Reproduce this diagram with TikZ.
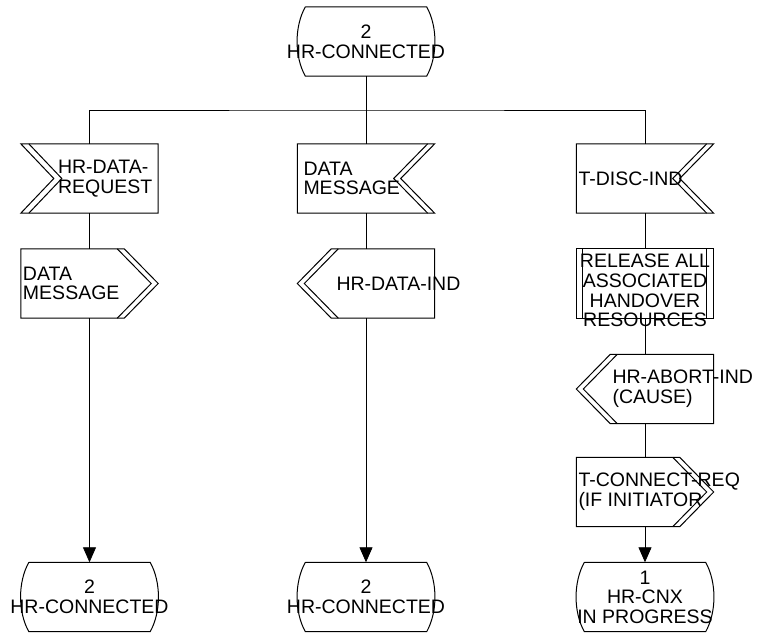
\documentclass[tikz,border=0pt]{standalone}
\usepackage{fontspec}
\setmainfont{Liberation Sans}
\usetikzlibrary{arrows.meta,positioning}
\begin{document}
\begin{tikzpicture}[x=1pt,y=-1pt,font={\fontsize{19.5pt}{19.6pt}\selectfont},
  box/.style={minimum width=137pt,minimum height=69pt,inner sep=0pt},
  txt/.style={inner sep=0pt,align=left},
  flow/.style={line width=.8pt},
  outl/.style={line width=1pt}]
  \useasboundingbox (0,0) rectangle (758,635);
  \node[box] (top) at (366,41.5) {};
  \foreach \n/\x/\y in {req/89.5/178.5,msg/366/178.5,disc/645/178.5,
      sendmsg/89.5/283.5,dataind/366/283.5,release/645/283.5,
      abortind/645/389,connreq/645/492,back1/89.5/597,back2/366/597,cnx/645/597}
    \node[box] (\n) at (\x,\y) {};
  % states
  \foreach \n in {top,back1,back2,cnx}
    \draw[outl] ([xshift=8pt]\n.north west) -- ([xshift=-8pt]\n.north east)
      .. controls ([xshift=3pt,yshift=-20pt]\n.north east) and ([xshift=3pt,yshift=20pt]\n.south east) .. ([xshift=-8pt]\n.south east)
      -- ([xshift=8pt]\n.south west)
      .. controls ([xshift=-3pt,yshift=20pt]\n.south west) and ([xshift=-3pt,yshift=-20pt]\n.north west) .. ([xshift=8pt]\n.north west);
  % inputs
  \draw[outl] (req.north east) -- (req.north west) -- ([xshift=33pt]req.west) -- (req.south west) -- (req.south east) -- cycle;
  \draw[outl] ([xshift=8pt]req.north west) -- ([xshift=41pt]req.west) -- ([xshift=8pt]req.south west);
  \foreach \n in {msg,disc} {
    \draw[outl] (\n.north west) -- (\n.north east) -- ([xshift=-34pt]\n.east) -- (\n.south east) -- (\n.south west) -- cycle;
    \draw[outl] ([xshift=-7pt]\n.north east) -- ([xshift=-41pt]\n.east) -- ([xshift=-7pt]\n.south east);
  }
  % outputs
  \foreach \n in {sendmsg,connreq} {
    \draw[outl] (\n.north west) -- ([xshift=-34pt]\n.north east) -- (\n.east) -- ([xshift=-34pt]\n.south east) -- (\n.south west) -- cycle;
    \draw[outl] ([xshift=-41pt]\n.north east) -- ([xshift=-7pt]\n.east) -- ([xshift=-41pt]\n.south east);
  }
  \foreach \n in {dataind,abortind} {
    \draw[outl] (\n.north east) -- ([xshift=34pt]\n.north west) -- (\n.west) -- ([xshift=34pt]\n.south west) -- (\n.south east) -- cycle;
    \draw[outl] ([xshift=41pt]\n.north west) -- ([xshift=7pt]\n.west) -- ([xshift=41pt]\n.south west);
  }
  % task
  \draw[outl] (release.north west) rectangle (release.south east);
  \draw[outl] ([xshift=6pt]release.north west) -- ([xshift=6pt]release.south west);
  \draw[outl] ([xshift=-7pt]release.north east) -- ([xshift=-7pt]release.south east);
  % texts
  \node[txt,align=center] (toptxt) at (top) {2\\HR-CONNECTED};
  \node[txt,right=37pt of req.west] (reqtxt) {HR-DATA-\\REQUEST};
  \node[txt,right=6pt of msg.west] (msgtxt) {DATA\\MESSAGE};
  \node[txt,right=2pt of disc.west] (disctxt) {T-DISC-IND};
  \node[txt,right=2pt of sendmsg.west] (sendmsgtxt) {DATA\\MESSAGE};
  \node[txt,right=39pt of dataind.west] (dataindtxt) {HR-DATA-IND};
  \node[txt,align=center,yshift=-7pt] (releasetxt) at (release) {RELEASE ALL\\ASSOCIATED\\HANDOVER\\RESOURCES};
  \node[txt,right=36pt of abortind.west] (abortindtxt) {HR-ABORT-IND\\(CAUSE)};
  \node[txt,right=2pt of connreq.west] (connreqtxt) {T-CONNECT-REQ\\(IF INITIATOR};
  \node[txt,align=center] (back1txt) at (back1) {2\\HR-CONNECTED};
  \node[txt,align=center] (back2txt) at (back2) {2\\HR-CONNECTED};
  \node[txt,align=center] (cnxtxt) at (cnx) {1\\HR-CNX\\IN PROGRESS};
  % flow lines
  \coordinate (bus) at (366,110);
  \draw[flow] (top) -- (bus);
  \draw[flow] (req) |- (bus) -| (disc);
  \draw[flow] (bus) -- (msg);
  \foreach \a/\b in {req/sendmsg,msg/dataind,disc/release,release/abortind,abortind/connreq}
    \draw[flow] (\a) -- (\b);
  \foreach \a/\b in {sendmsg/back1,dataind/back2,connreq/cnx}
    \draw[flow,-{Triangle[length=15pt,width=13pt]}] (\a) -- (\b);
\end{tikzpicture}
\end{document}
